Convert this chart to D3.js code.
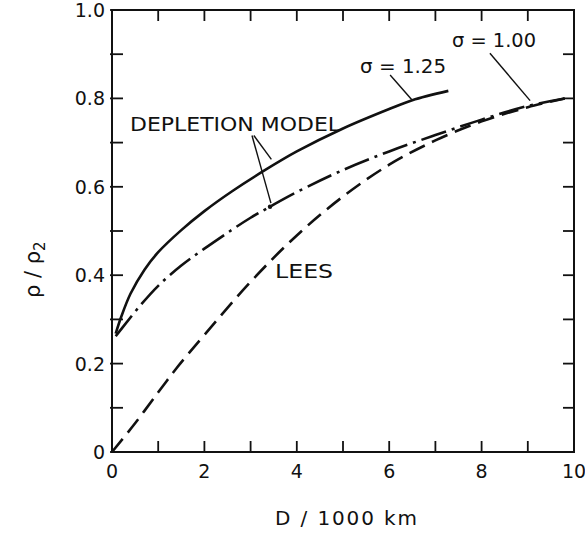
<!DOCTYPE html>
<html>
  <head>
    <meta charset="utf-8">
    <title>Density ratio versus distance</title>
    <script src="https://d3js.org/d3.v7.min.js"></script>
    <style>
      body { margin: 0; background: #fff; }
      svg text { font-family: "DejaVu Sans", sans-serif; fill: #111; }
      .frame { fill: none; stroke: #111; stroke-width: 2; }
      .tick-mark { stroke: #111; stroke-width: 1.8; }
      .curve { fill: none; stroke: #111; stroke-width: 2.6; }
      .leader { stroke: #111; stroke-width: 1.4; }
    </style>
  </head>
  <body>
    <svg id="chart" width="585" height="533"></svg>
    <script>
      // data (D in 1000 km, rho / rho2)
      sigma125D = [0.08, 0.2, 0.4, 0.7, 1.0, 1.5, 2.0, 2.6, 3.3, 4.0, 5.0, 6.0, 6.5, 7.28];
      sigma125Rho = [0.268, 0.306, 0.358, 0.412, 0.452, 0.502, 0.545, 0.59, 0.637, 0.680, 0.732, 0.776, 0.796, 0.817];
      sigma100D = [0.08, 0.2, 0.6, 1.0, 1.5, 2.0, 2.6, 3.0, 3.42, 4.0, 5.0, 6.0, 7.0, 8.0, 9.0, 9.8];
      sigma100Rho = [0.262, 0.278, 0.33, 0.376, 0.422, 0.46, 0.503, 0.53, 0.555, 0.588, 0.638, 0.68, 0.717, 0.752, 0.783, 0.80];
      leesD = [0, 0.5, 1.0, 1.4, 2.0, 3.0, 4.0, 5.0, 6.0, 7.0, 8.0, 9.0, 9.8];
      leesRho = [0, 0.065, 0.135, 0.19, 0.265, 0.385, 0.49, 0.578, 0.65, 0.705, 0.748, 0.78, 0.80];
      xTickLabels = ["0", "2", "4", "6", "8", "10"];
      yTickLabels = ["0", "0.2", "0.4", "0.6", "0.8", "1.0"];

      svg = d3.select("#chart");
      x = d3.scaleLinear().domain([0, 10]).range([112, 574]);
      y = d3.scaleLinear().domain([0, 1]).range([452, 10]);
      zip = function(a, b) { return a.map(function(d, i) { return [d, b[i]]; }); };
      line = d3.line()
        .x(function(d) { return x(d[0]); })
        .y(function(d) { return y(d[1]); })
        .curve(d3.curveCatmullRom.alpha(0.5));

      // inward ticks on all four sides
      tickLen = 11;
      d3.range(0, 11).forEach(function(i) {
        svg.append("line").attr("class", "tick-mark")
          .attr("x1", x(i)).attr("x2", x(i)).attr("y1", y(0)).attr("y2", y(0) - tickLen);
        svg.append("line").attr("class", "tick-mark")
          .attr("x1", x(i)).attr("x2", x(i)).attr("y1", y(1)).attr("y2", y(1) + tickLen);
        svg.append("line").attr("class", "tick-mark")
          .attr("x1", x(0) - 2).attr("x2", x(0) + tickLen).attr("y1", y(i / 10)).attr("y2", y(i / 10));
        svg.append("line").attr("class", "tick-mark")
          .attr("x1", x(10)).attr("x2", x(10) - tickLen).attr("y1", y(i / 10)).attr("y2", y(i / 10));
      });
      svg.append("rect").attr("class", "frame")
        .attr("x", x(0)).attr("y", y(1))
        .attr("width", x(10) - x(0)).attr("height", y(0) - y(1));

      // tick labels
      svg.selectAll(".xlab").data(xTickLabels).enter().append("text")
        .attr("x", function(d) { return x(+d); })
        .attr("y", y(0) + 26)
        .attr("text-anchor", "middle")
        .style("font-size", "19px")
        .text(function(d) { return d; });
      svg.selectAll(".ylab").data(yTickLabels).enter().append("text")
        .attr("x", x(0) - 7)
        .attr("y", function(d) { return y(+d) + 7; })
        .attr("text-anchor", "end")
        .style("font-size", "19px")
        .text(function(d) { return d; });

      // axis titles
      svg.append("text")
        .attr("x", 275).attr("y", 525)
        .attr("textLength", 142).attr("lengthAdjust", "spacing")
        .style("font-size", "20px")
        .text("D / 1000 km");
      svg.append("text")
        .attr("transform", "translate(40, 298) rotate(-90)")
        .style("font-size", "21px")
        .html("ρ / ρ<tspan dy='5' style='font-size:15px'>2</tspan>");

      // curves
      svg.append("path").attr("class", "curve")
        .attr("d", line(zip(leesD, leesRho)))
        .attr("stroke-dasharray", "17 8");
      svg.append("path").attr("class", "curve")
        .attr("d", line(zip(sigma100D, sigma100Rho)))
        .attr("stroke-dasharray", "26 6 3 6");
      svg.append("path").attr("class", "curve")
        .attr("d", line(zip(sigma125D, sigma125Rho)));

      // leader lines, in data units
      leaders = [
        [[3.07, 0.716], [3.45, 0.662]],
        [[3.03, 0.716], [3.44, 0.563]],
        [[6.02, 0.853], [6.49, 0.797]],
        [[8.18, 0.902], [9.05, 0.795]]
      ];
      leaders.forEach(function(l) {
        svg.append("line").attr("class", "leader")
          .attr("x1", x(l[0][0])).attr("y1", y(l[0][1]))
          .attr("x2", x(l[1][0])).attr("y2", y(l[1][1]));
      });
      svg.append("circle")
        .attr("cx", x(3.42)).attr("cy", y(0.555)).attr("r", 2.2).attr("fill", "#111");

      // curve labels
      labels = [
        { text: "DEPLETION MODEL", d: 0.39, r: 0.727, w: 210 },
        { text: "σ = 1.25", d: 5.37, r: 0.858, w: 86 },
        { text: "σ = 1.00", d: 7.36, r: 0.917, w: 84 },
        { text: "LEES", d: 3.53, r: 0.394, w: 58 }
      ];
      labels.forEach(function(l) {
        svg.append("text")
          .attr("x", x(l.d)).attr("y", y(l.r))
          .attr("textLength", l.w).attr("lengthAdjust", "spacingAndGlyphs")
          .style("font-size", "20px")
          .text(l.text);
      });
    </script>
  </body>
</html>
